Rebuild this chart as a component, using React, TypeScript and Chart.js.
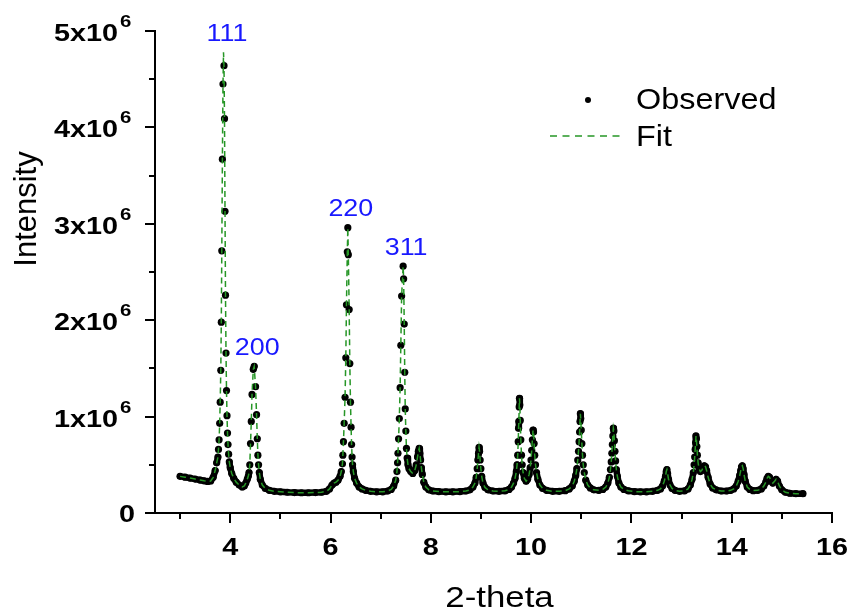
import React, { useEffect, useRef } from 'react';
import { Chart, registerables } from 'chart.js';

Chart.register(...registerables);

type Pt = [number, number];

// Powder diffraction scan: [2-theta (deg), intensity (x10^6 counts)]
const scanStart: Pt[] = [
  [3.0, 0.38], [3.1, 0.372], [3.2, 0.362], [3.3, 0.352], [3.4, 0.342], [3.48, 0.334],
  [3.55, 0.328], [3.61, 0.332], [3.66, 0.37], [3.7, 0.44], [3.73, 0.52], [3.755, 0.58],
];
const peak111: Pt[] = [
  [3.766, 0.66], [3.778, 0.76], [3.79, 0.93], [3.8, 1.15], [3.812, 1.48], [3.822, 1.98],
  [3.832, 2.72], [3.844, 3.67], [3.856, 4.45], [3.876, 4.64], [3.886, 4.09], [3.896, 3.13],
  [3.906, 2.26], [3.916, 1.66], [3.926, 1.27], [3.936, 1.01], [3.946, 0.83], [3.956, 0.71],
  [3.968, 0.61], [3.982, 0.53],
];
const gap111to200: Pt[] = [
  [4.0, 0.47], [4.03, 0.41], [4.07, 0.36], [4.12, 0.32], [4.18, 0.29], [4.24, 0.27],
  [4.28, 0.28], [4.31, 0.31], [4.34, 0.35], [4.36, 0.38],
];
const peak200: Pt[] = [
  [4.375, 0.42], [4.39, 0.5], [4.405, 0.72], [4.42, 0.95], [4.435, 1.23], [4.46, 1.49],
  [4.478, 1.52], [4.505, 1.31], [4.525, 1.02], [4.54, 0.77], [4.552, 0.6], [4.565, 0.5],
  [4.58, 0.42],
];
const gap200to220: Pt[] = [
  [4.6, 0.35], [4.64, 0.29], [4.7, 0.255], [4.78, 0.235], [4.88, 0.225], [5.0, 0.22],
  [5.14, 0.215], [5.28, 0.212], [5.42, 0.21], [5.56, 0.21], [5.7, 0.212], [5.82, 0.215],
  [5.92, 0.225], [5.98, 0.25], [6.03, 0.29], [6.07, 0.31], [6.11, 0.32], [6.15, 0.34],
  [6.19, 0.38], [6.215, 0.43],
];
const peak220: Pt[] = [
  [6.238, 0.51], [6.246, 0.6], [6.258, 0.74], [6.272, 0.93], [6.29, 1.2], [6.305, 1.61],
  [6.318, 2.16], [6.335, 2.71], [6.345, 2.96], [6.355, 2.68], [6.372, 2.11], [6.385, 1.55],
  [6.398, 1.15], [6.41, 0.89], [6.42, 0.71], [6.43, 0.58], [6.44, 0.5], [6.455, 0.43],
];
const gap220to311: Pt[] = [
  [6.48, 0.36], [6.52, 0.31], [6.57, 0.27], [6.63, 0.25], [6.7, 0.235], [6.8, 0.225],
  [6.92, 0.22], [7.04, 0.22], [7.14, 0.228], [7.21, 0.245], [7.26, 0.28], [7.3, 0.34],
  [7.325, 0.43],
];
const peak311: Pt[] = [
  [7.337, 0.52], [7.345, 0.62], [7.357, 0.77], [7.372, 0.98], [7.388, 1.3], [7.402, 1.74],
  [7.418, 2.25], [7.448, 2.56], [7.458, 2.43], [7.47, 1.96], [7.48, 1.46], [7.49, 1.08],
  [7.502, 0.85], [7.514, 0.67], [7.528, 0.57], [7.545, 0.5],
];
const band775: Pt[] = [
  [7.565, 0.46], [7.6, 0.43], [7.64, 0.41], [7.68, 0.44], [7.71, 0.5], [7.735, 0.58],
  [7.752, 0.64], [7.768, 0.67], [7.782, 0.62], [7.796, 0.55], [7.812, 0.47], [7.83, 0.4],
  [7.86, 0.32], [7.9, 0.27], [7.96, 0.24], [8.04, 0.228], [8.16, 0.222], [8.3, 0.22],
  [8.44, 0.22], [8.58, 0.222], [8.7, 0.228],
];
const band896: Pt[] = [
  [8.78, 0.24], [8.84, 0.27], [8.88, 0.31], [8.905, 0.37], [8.925, 0.46], [8.94, 0.55],
  [8.952, 0.62], [8.962, 0.68], [8.972, 0.64], [8.984, 0.55], [8.998, 0.46], [9.015, 0.38],
  [9.04, 0.31], [9.08, 0.265], [9.14, 0.24], [9.24, 0.228], [9.36, 0.225], [9.48, 0.23],
];
const band976: Pt[] = [
  [9.56, 0.245], [9.61, 0.27], [9.65, 0.31], [9.68, 0.36], [9.705, 0.43], [9.72, 0.5],
  [9.733, 0.6], [9.743, 0.74], [9.75, 0.88], [9.756, 0.95], [9.762, 1.1], [9.768, 1.19],
  [9.775, 1.12], [9.784, 0.96], [9.795, 0.76], [9.808, 0.6], [9.822, 0.5], [9.84, 0.42],
  [9.865, 0.36], [9.9, 0.33],
];
const band1004: Pt[] = [
  [9.93, 0.35], [9.96, 0.4], [9.982, 0.47], [9.998, 0.55], [10.012, 0.65], [10.025, 0.76],
  [10.038, 0.86], [10.048, 0.84], [10.06, 0.72], [10.072, 0.6], [10.088, 0.5], [10.108, 0.42],
  [10.135, 0.35], [10.175, 0.29], [10.23, 0.255], [10.31, 0.235], [10.43, 0.225],
  [10.56, 0.225], [10.68, 0.232],
];
const band1098: Pt[] = [
  [10.76, 0.25], [10.82, 0.28], [10.86, 0.33], [10.89, 0.39], [10.912, 0.46], [10.93, 0.55],
  [10.945, 0.64], [10.957, 0.74], [10.967, 0.84], [10.975, 0.95], [10.982, 1.03], [10.99, 0.98],
  [11.0, 0.86], [11.012, 0.72], [11.025, 0.6], [11.04, 0.5], [11.06, 0.42], [11.09, 0.34],
  [11.13, 0.29], [11.18, 0.26], [11.25, 0.24], [11.35, 0.235], [11.43, 0.245],
];
const band1164: Pt[] = [
  [11.49, 0.27], [11.53, 0.31], [11.56, 0.37], [11.582, 0.45], [11.598, 0.53], [11.61, 0.62],
  [11.62, 0.71], [11.63, 0.8], [11.64, 0.88], [11.65, 0.85], [11.66, 0.75], [11.672, 0.64],
  [11.685, 0.54], [11.7, 0.45], [11.72, 0.38], [11.75, 0.31], [11.79, 0.27], [11.85, 0.245],
  [11.94, 0.23], [12.06, 0.222], [12.18, 0.22], [12.3, 0.22], [12.42, 0.225], [12.52, 0.235],
];
const band1270: Pt[] = [
  [12.58, 0.25], [12.62, 0.28], [12.655, 0.33], [12.68, 0.38], [12.695, 0.43], [12.708, 0.45],
  [12.722, 0.41], [12.74, 0.35], [12.77, 0.29], [12.81, 0.255], [12.87, 0.235], [12.96, 0.225],
  [13.06, 0.23],
];
const band1329: Pt[] = [
  [13.13, 0.25], [13.175, 0.29], [13.21, 0.35], [13.235, 0.42], [13.25, 0.5], [13.262, 0.58],
  [13.272, 0.66], [13.28, 0.73], [13.288, 0.8], [13.296, 0.77], [13.305, 0.69], [13.316, 0.6],
  [13.33, 0.52], [13.35, 0.46], [13.375, 0.43], [13.4, 0.44], [13.43, 0.47], [13.455, 0.49],
  [13.478, 0.48], [13.5, 0.44], [13.53, 0.37], [13.57, 0.3], [13.62, 0.26], [13.69, 0.24],
  [13.79, 0.228], [13.9, 0.228],
];
const band1421: Pt[] = [
  [13.98, 0.235], [14.04, 0.25], [14.09, 0.28], [14.13, 0.33], [14.16, 0.39], [14.18, 0.44],
  [14.196, 0.48], [14.212, 0.49], [14.228, 0.46], [14.246, 0.4], [14.27, 0.33], [14.31, 0.27],
  [14.36, 0.245], [14.43, 0.232], [14.52, 0.235],
];
const band1480: Pt[] = [
  [14.59, 0.25], [14.64, 0.28], [14.68, 0.32], [14.705, 0.36], [14.73, 0.38], [14.755, 0.37],
  [14.785, 0.33], [14.82, 0.31], [14.855, 0.33], [14.885, 0.35], [14.915, 0.33], [14.95, 0.28],
  [15.0, 0.24], [15.07, 0.215], [15.16, 0.205], [15.28, 0.2], [15.42, 0.2],
];

// Fitted profile apex where it rises above the measured points
const fitApexes: Pt[] = [[3.866, 4.78]];

// Axis ticks and labels
const xTickValues = [3, 4, 5, 6, 7, 8, 9, 10, 11, 12, 13, 14, 15, 16];
const xLabelValues = [4, 6, 8, 10, 12, 14, 16];
const yTickValues = [0, 0.5, 1, 1.5, 2, 2.5, 3, 3.5, 4, 4.5, 5];
const yLabelValues = [0, 1, 2, 3, 4, 5];

// Miller indices of the indexed reflections
const hklLabels = ['111', '200', '220', '311'];
const hklPeakX = [3.876, 4.478, 6.345, 7.448];
const hklPeakTop = [4.78, 1.52, 2.96, 2.56];

const observed: Pt[] = [
  ...scanStart, ...peak111, ...gap111to200, ...peak200, ...gap200to220, ...peak220,
  ...gap220to311, ...peak311, ...band775, ...band896, ...band976, ...band1004,
  ...band1098, ...band1164, ...band1270, ...band1329, ...band1421, ...band1480,
];
const fitted: Pt[] = [...observed, ...fitApexes].sort((a, b) => a[0] - b[0]);

const FONT = '"Liberation Sans", Arial, Helvetica, sans-serif';
const FIT_GREEN = 'rgb(38,150,38)';

function stretchText(
  ctx: CanvasRenderingContext2D,
  text: string,
  x: number,
  y: number,
  font: string,
  align: 'left' | 'center' | 'right',
  sx: number,
  color = '#000',
) {
  ctx.save();
  ctx.font = font;
  ctx.fillStyle = color;
  ctx.textAlign = 'left';
  ctx.textBaseline = 'alphabetic';
  const w = ctx.measureText(text).width * sx;
  const left = align === 'right' ? x - w : align === 'center' ? x - w / 2 : x;
  ctx.translate(left, y);
  ctx.scale(sx, 1);
  ctx.fillText(text, 0, 0);
  ctx.restore();
}

const decorations = {
  id: 'decorations',
  afterDraw(chart: any) {
    const { ctx, chartArea: a } = chart;
    const xs = chart.scales.x;
    const ys = chart.scales.y;
    ctx.save();
    ctx.strokeStyle = '#000';
    ctx.lineWidth = 2;
    ctx.lineCap = 'butt';

    // outward tick marks, longer on labelled positions
    xTickValues.forEach((v) => {
      const px = Math.round(xs.getPixelForValue(v));
      const len = xLabelValues.includes(v) ? 10 : 6;
      ctx.beginPath();
      ctx.moveTo(px, a.bottom);
      ctx.lineTo(px, a.bottom + len);
      ctx.stroke();
    });
    yTickValues.forEach((v) => {
      const py = Math.round(ys.getPixelForValue(v));
      const len = yLabelValues.includes(v) ? 10 : 6;
      ctx.beginPath();
      ctx.moveTo(a.left - len, py);
      ctx.lineTo(a.left, py);
      ctx.stroke();
    });

    // tick labels
    const bold = (s: number) => `bold ${s}px ${FONT}`;
    xLabelValues.forEach((v) => {
      stretchText(ctx, String(v), xs.getPixelForValue(v), a.bottom + 42, bold(24), 'center', 1.2);
    });
    yLabelValues.forEach((v) => {
      const py = ys.getPixelForValue(v);
      if (v === 0) {
        stretchText(ctx, '0', a.left - 20, py + 9, bold(24), 'right', 1.2);
      } else {
        stretchText(ctx, `${v}x10`, a.left - 37, py + 10, bold(24), 'right', 1.2);
        stretchText(ctx, '6', a.left - 35, py - 4, bold(17), 'left', 1.2);
      }
    });

    // axis titles
    stretchText(ctx, '2-theta', (a.left + a.right) / 2 + 6, a.bottom + 94, `29px ${FONT}`, 'center', 1.2);
    ctx.save();
    ctx.translate(27, a.top + 178);
    ctx.rotate(-Math.PI / 2);
    ctx.font = `31px ${FONT}`;
    ctx.fillStyle = '#000';
    ctx.textAlign = 'center';
    ctx.textBaseline = 'middle';
    ctx.fillText('Intensity', 0, 0);
    ctx.restore();

    // reflection indices above their peaks
    hklLabels.forEach((t, i) => {
      const px = xs.getPixelForValue(hklPeakX[i]) + 3;
      const py = ys.getPixelForValue(hklPeakTop[i]) - 11.5;
      stretchText(ctx, t, px, py, `24px ${FONT}`, 'center', 1.12, 'rgb(24,24,255)');
    });

    // legend
    const ds = chart.data.datasets;
    ctx.fillStyle = '#000';
    ctx.beginPath();
    ctx.arc(588, 100, 3, 0, Math.PI * 2);
    ctx.fill();
    stretchText(ctx, ds[0].label, 636, 109, `30px ${FONT}`, 'left', 1.08);
    ctx.strokeStyle = FIT_GREEN;
    ctx.lineWidth = 1.5;
    ctx.setLineDash([7, 5.5]);
    ctx.beginPath();
    ctx.moveTo(550, 136);
    ctx.lineTo(624, 136);
    ctx.stroke();
    ctx.setLineDash([]);
    stretchText(ctx, ds[1].label, 636, 146, `30px ${FONT}`, 'left', 1.08);

    ctx.restore();
  },
};

export default function App() {
  const canvasRef = useRef<HTMLCanvasElement>(null);

  useEffect(() => {
    const canvas = canvasRef.current;
    if (!canvas) return;
    const chart = new Chart(canvas, {
      type: 'line',
      data: {
        datasets: [
          {
            label: 'Observed',
            data: observed.map(([x, y]) => ({ x, y })),
            order: 1,
            showLine: true,
            borderColor: '#000',
            borderWidth: 6.5,
            borderCapStyle: 'round',
            borderJoinStyle: 'round',
            pointRadius: 3.6,
            pointBorderWidth: 0,
            pointBackgroundColor: '#000',
            tension: 0,
            segment: {
              // nearly level neighbours overlap and read as one thick trace
              borderColor: (c: any) =>
                Math.abs(c.p1.y - c.p0.y) < 7.5 ? '#000' : 'rgba(0,0,0,0)',
            },
          },
          {
            label: 'Fit',
            data: fitted.map(([x, y]) => ({ x, y })),
            order: 0,
            showLine: true,
            borderColor: FIT_GREEN,
            borderWidth: 1.5,
            borderDash: [6, 4],
            pointRadius: 0,
            tension: 0,
          },
        ],
      },
      options: {
        responsive: false,
        maintainAspectRatio: false,
        devicePixelRatio: 1,
        animation: false,
        events: [],
        layout: { padding: { left: 155, right: 22, top: 31, bottom: 95 } },
        plugins: {
          legend: { display: false },
          tooltip: { enabled: false },
        },
        scales: {
          x: {
            type: 'linear',
            min: 2.5,
            max: 16,
            ticks: { display: false },
            grid: { display: false, drawTicks: false },
            border: { display: true, color: '#000', width: 2 },
            afterFit: (s: any) => { s.height = 0; },
          },
          y: {
            type: 'linear',
            min: 0,
            max: 5,
            ticks: { display: false },
            grid: { display: false, drawTicks: false },
            border: { display: true, color: '#000', width: 2 },
            afterFit: (s: any) => { s.width = 0; },
          },
        },
      } as any,
      plugins: [decorations],
    });
    return () => chart.destroy();
  }, []);

  return (
    <div style={{ position: 'fixed', left: 0, top: 0, width: 854, height: 608, background: '#fff' }}>
      <canvas ref={canvasRef} width={854} height={608} style={{ display: 'block', width: 854, height: 608 }} />
    </div>
  );
}
